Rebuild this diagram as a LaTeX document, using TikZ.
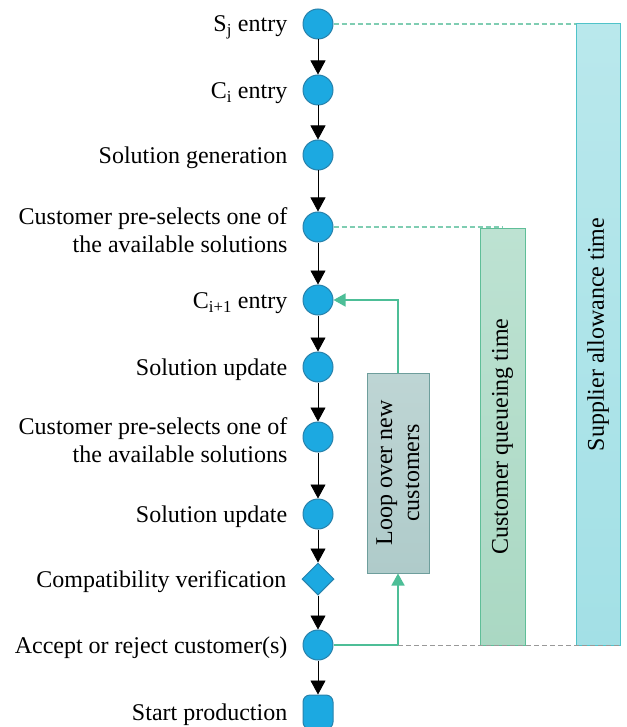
\documentclass[tikz,border=0pt]{standalone}
\usepackage{fontspec}
\setmainfont{Liberation Serif}
\usetikzlibrary{arrows.meta,positioning,shapes.geometric}
\definecolor{stepblue}{HTML}{1CA9E1}
\definecolor{stepedge}{HTML}{2882AC}
\definecolor{loopgreen}{HTML}{4DBE97}
\definecolor{dashgreen}{HTML}{7FCDB2}
\definecolor{supedge}{HTML}{4FC3C9}
\definecolor{queedge}{HTML}{5FBE98}
\definecolor{boxedge}{HTML}{6E9E9C}

\begin{document}
\begin{tikzpicture}[x=1pt, y=-1pt,
  event/.style={circle, draw=stepedge, fill=stepblue, line width=1pt,
                minimum size=30pt, inner sep=0pt},
  check/.style={diamond, draw=stepedge, fill=stepblue, line width=1pt,
                minimum size=32pt, inner sep=0pt},
  finish/.style={rectangle, rounded corners=7pt, draw=stepedge, fill=stepblue,
                 line width=1pt, minimum width=30pt, minimum height=34pt},
  lbl/.style={left=15pt of #1, yshift=-3pt, align=right, inner sep=0pt,
              font=\fontsize{24}{28}\selectfont},
  flow/.style={-{Triangle[length=14pt,width=15pt]}, line width=0.8pt},
  loopline/.style={loopgreen, line width=1.5pt},
  guide/.style={dashgreen, dash pattern=on 5pt off 3pt, line width=1.3pt},
  bar/.style={rectangle, draw=#1, line width=1pt, inner sep=0pt},
  vtext/.style={rotate=90, align=center, font=\fontsize{24}{27}\selectfont}]

  %% frame
  \useasboundingbox[fill=white] (0,0) rectangle (626,727);

  %% main chain of events
  \node[event]  (sj)    at (318,24)  {};
  \node[event]  (ci)    at (318,90)  {};
  \node[event]  (gen)   at (318,155) {};
  \node[event]  (pre1)  at (318,227) {};
  \node[event]  (cnext) at (318,300) {};
  \node[event]  (upd1)  at (318,367) {};
  \node[event]  (pre2)  at (318,437) {};
  \node[event]  (upd2)  at (318,514) {};
  \node[check]  (comp)  at (318,579) {};
  \node[event]  (acc)   at (318,645) {};
  \node[finish] (prod)  at (318,712) {};

  %% labels
  \node[lbl=sj]    {S\textsubscript{j} entry};
  \node[lbl=ci]    {C\textsubscript{i} entry};
  \node[lbl=gen]   {Solution generation};
  \node[lbl=pre1]  {Customer pre-selects one of\\the available solutions};
  \node[lbl=cnext] {C\textsubscript{i+1} entry};
  \node[lbl=upd1]  {Solution update};
  \node[lbl=pre2]  {Customer pre-selects one of\\the available solutions};
  \node[lbl=upd2]  {Solution update};
  \node[lbl=comp]  {Compatibility verification};
  \node[lbl=acc]   {Accept or reject customer(s)};
  \node[lbl=prod]  {Start production};

  %% arrows between events
  \foreach \a/\b in {sj/ci, ci/gen, gen/pre1, pre1/cnext, cnext/upd1,
                     upd1/pre2, pre2/upd2, upd2/comp, comp/acc, acc/prod}
    \draw[flow] (\a) -- (\b);

  %% time bars
  \coordinate (supc) at (598,334.5);
  \coordinate (quec) at (502.5,436.5);
  \draw[guide] (sj.east) -- (sj -| supc);
  \draw[guide] (pre1.east) -- (pre1 -| quec);
  \node[bar=supedge,
        top color={rgb,255:red,185;green,232;blue,236},
        bottom color={rgb,255:red,163;green,224;blue,230},
        minimum width=44pt, minimum height=621pt] (sup) at (supc) {};
  \node[vtext] at (sup) {Supplier allowance time};
  \node[bar=queedge,
        top color={rgb,255:red,189;green,226;blue,210},
        bottom color={rgb,255:red,170;green,216;blue,195},
        minimum width=45pt, minimum height=417pt] (que) at (quec) {};
  \node[vtext] at (que) {Customer queueing time};

  %% loop over new customers
  \node[bar=boxedge,
        top color={rgb,255:red,190;green,213;blue,212},
        bottom color={rgb,255:red,175;green,203;blue,202},
        minimum width=62pt, minimum height=200pt] (loop) at (398,473) {};
  \node[vtext] at (loop) {Loop over new\\customers};
  \coordinate (turn) at (loop.south |- acc);
  \draw[gray!80, dash pattern=on 5pt off 3pt, line width=0.9pt]
    (turn) -- (turn -| sup.east);
  \draw[loopline] (acc.east) -- (turn);
  \draw[loopline, -{Triangle[length=12pt,width=13pt]}] (turn) -- (loop.south);
  \draw[loopline, -{Triangle[length=12pt,width=13pt]}]
    (loop.north) |- (cnext.east);
\end{tikzpicture}
\end{document}
